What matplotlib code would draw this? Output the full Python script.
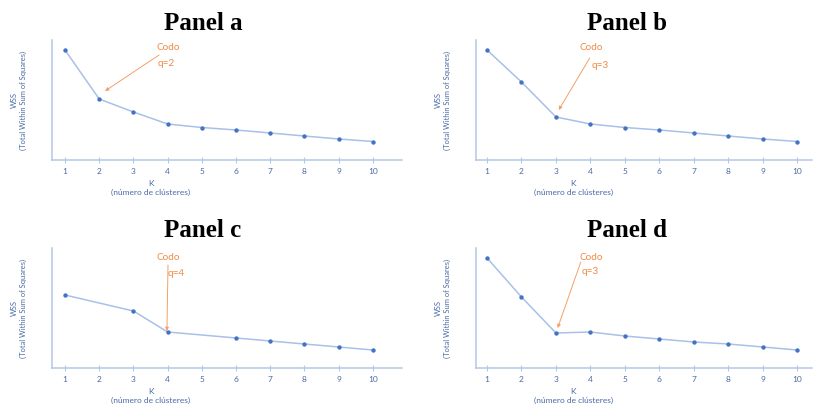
import matplotlib
matplotlib.use("Agg")
import matplotlib.pyplot as plt

# WSS curves (arbitrary units, axis starts at 0)
k_full = [1, 2, 3, 4, 5, 6, 7, 8, 9, 10]
k_c = [1, 3, 4, 6, 7, 8, 9, 10]
wss_a = [110, 61, 48, 36, 32.5, 30, 27, 24, 21, 18.5]
wss_b = [110, 78, 43, 36, 32.5, 30, 27, 24, 21, 18.5]
wss_c = [73, 57, 36, 30, 27, 24, 21, 18]
wss_d = [110, 71, 35, 36, 32, 29, 26, 24, 21, 18]
titles = ["Panel a", "Panel b", "Panel c", "Panel d"]
codo_labels = ["q=2", "q=3", "q=4", "q=3"]
tick_labels = ["1", "2", "3", "4", "5", "6", "7", "8", "9", "10"]

W, H = 814, 409
AX_COL = "#B4C7E7"
LINE_COL = "#A9C0E8"
DOT_COL = "#4472C4"
TXT_COL = "#4A6AA5"
ORANGE = "#F4A06A"
ORANGE_TXT = "#F08A45"
SMALL = ["Lato", "DejaVu Sans"]

fig = plt.figure(figsize=(W / 100, H / 100), dpi=100)

# (left, bottom, right, top) in pixels, x-limits, title position
panels = [
    dict(px=(52, 160, 402, 40), xlim=(0.62, 10.85), title=(203, 30),
         x=k_full, y=wss_a, tail=(3.75, 105), head=(2.17, 69),
         codo=(4.01, 112), q=(3.95, 97)),
    dict(px=(476, 160, 812, 40), xlim=(0.68, 10.43), title=(627, 30),
         x=k_full, y=wss_b, tail=(3.98, 102), head=(3.08, 50),
         codo=(4.03, 112), q=(4.27, 95)),
    dict(px=(52, 368, 402, 248), xlim=(0.62, 10.85), title=(203, 237),
         x=k_c, y=wss_c, tail=(4.01, 103), head=(3.98, 37),
         codo=(4.01, 111), q=(4.25, 94)),
    dict(px=(476, 368, 812, 248), xlim=(0.68, 10.43), title=(627, 237),
         x=k_full, y=wss_d, tail=(3.72, 106), head=(3.05, 40),
         codo=(4.03, 111), q=(3.98, 97)),
]

for i, p in enumerate(panels):
    l, b, r, t = p["px"]
    ax = fig.add_axes([l / W, 1 - b / H, (r - l) / W, (b - t) / H])
    ax.plot(p["x"], p["y"], color=LINE_COL, lw=1.1, zorder=2)
    ax.scatter(p["x"], p["y"], color=DOT_COL, s=10, zorder=3, lw=0)
    ax.set_xlim(*p["xlim"])
    ax.set_ylim(0, 120)
    for s in ["top", "right"]:
        ax.spines[s].set_visible(False)
    for s in ["left", "bottom"]:
        ax.spines[s].set_color(AX_COL)
        ax.spines[s].set_linewidth(1.1)
    ax.set_yticks([])
    ax.set_xticks(k_full)
    ax.set_xticklabels(tick_labels, family=SMALL, fontsize=6, color=TXT_COL)
    ax.tick_params(axis="x", direction="inout", length=5, width=0.8,
                   color=AX_COL, pad=3)
    ax.patch.set_alpha(0)

    # axis titles
    ax.annotate("WSS\n(Total Within Sum of Squares)", xy=(0, 0.5),
                xycoords="axes fraction", xytext=(-33, 0),
                textcoords="offset pixels", rotation=90, ha="center",
                va="center", multialignment="center", linespacing=1.45,
                family=SMALL, fontsize=5.4, color=TXT_COL)
    ax.annotate("K\n(número de clústeres)", xy=(3.5, 0),
                xycoords=ax.get_xaxis_transform(), xytext=(0, -28),
                textcoords="offset pixels", ha="center", va="center",
                multialignment="center", linespacing=1.35,
                family=SMALL, fontsize=6, color=TXT_COL)

    # elbow annotation
    ax.annotate("", xy=p["head"], xytext=p["tail"],
                arrowprops=dict(arrowstyle="-|>", color=ORANGE, lw=0.7,
                                mutation_scale=5, shrinkA=0, shrinkB=0))
    ax.text(*p["codo"], "Codo", ha="center", va="center", family=SMALL,
            fontsize=7.2, color=ORANGE_TXT)
    ax.text(*p["q"], codo_labels[i], ha="center", va="center", family=SMALL,
            fontsize=7.2, color=ORANGE_TXT)

    tx, ty = p["title"]
    fig.text(tx / W, 1 - ty / H, titles[i], ha="center", va="baseline",
             family="Liberation Serif", fontweight="bold", fontsize=18)

fig.savefig("out.png", dpi=100, facecolor="white")
